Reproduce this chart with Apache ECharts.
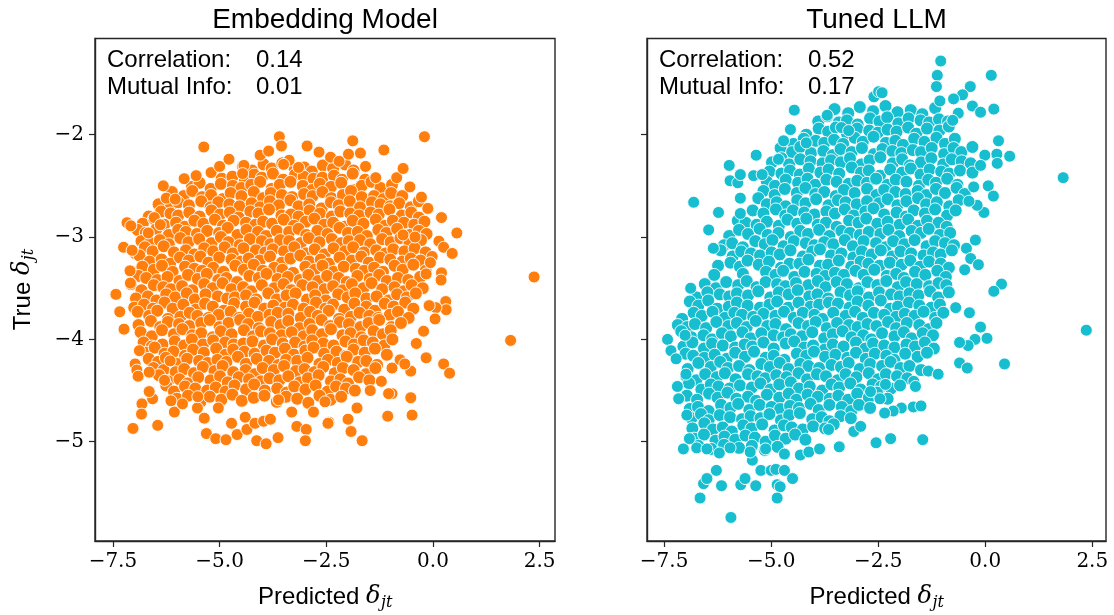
<!DOCTYPE html>
<html>
<head>
<meta charset="utf-8">
<title>Predicted vs true δjt</title>
<script src="https://cdn.jsdelivr.net/npm/echarts@6/dist/echarts.min.js"></script>
<style>
  html, body { margin: 0; padding: 0; background: #ffffff; }
  #chart { width: 1114px; height: 615px; }
</style>
</head>
<body>
<div id="chart"></div>
<script>
// ---- tick values and panel labels ----
const xTickValues = [-7.5, -5.0, -2.5, 0.0, 2.5];
const yTickValues = [-5, -4, -3, -2];
const panelTitles = ['Embedding Model', 'Tuned LLM'];
const statNames = ['Correlation:', 'Mutual Info:'];
const embeddingStats = ['0.14', '0.01'];
const tunedStats = ['0.52', '0.17'];

// ---- Embedding Model: [predicted, true] ----
const embeddingCore = [
[-4.45,-2.31],[-4.24,-2.35],[-3.97,-2.29],[-3.78,-2.33],[-3.53,-2.28],[-3.24,-2.34],[-3.02,-2.32],[-2.84,-2.36],[-2.58,-2.30],[-2.34,-2.33],[-2.06,-2.29],[-1.86,-2.35],
[-4.95,-2.43],[-4.70,-2.41],[-4.41,-2.45],[-4.19,-2.39],[-4.01,-2.42],[-3.75,-2.38],[-3.51,-2.44],[-3.23,-2.39],[-3.03,-2.41],[-2.80,-2.43],[-2.59,-2.42],[-2.32,-2.40],[-2.13,-2.44],[-1.88,-2.38],[-1.59,-2.44],
[-5.65,-2.51],[-5.47,-2.47],[-5.21,-2.53],[-4.97,-2.48],[-4.69,-2.50],[-4.49,-2.52],[-4.26,-2.49],[-4.05,-2.46],[-3.78,-2.53],[-3.59,-2.49],[-3.34,-2.46],[-3.05,-2.50],[-2.83,-2.54],[-2.65,-2.48],[-2.39,-2.51],[-2.15,-2.47],[-1.87,-2.54],[-1.67,-2.50],[-1.44,-2.46],[-1.23,-2.52],[-0.96,-2.49],
[-6.12,-2.56],[-5.84,-2.60],[-5.64,-2.55],[-5.41,-2.61],[-5.20,-2.59],[-4.93,-2.63],[-4.74,-2.57],[-4.49,-2.60],[-4.20,-2.56],[-3.98,-2.62],[-3.80,-2.57],[-3.54,-2.59],[-3.30,-2.61],[-3.02,-2.58],[-2.82,-2.60],[-2.59,-2.56],[-2.38,-2.62],[-2.11,-2.59],[-1.92,-2.55],[-1.67,-2.61],[-1.38,-2.60],[-1.16,-2.63],[-0.98,-2.57],[-0.72,-2.60],
[-6.43,-2.68],[-6.16,-2.72],[-5.97,-2.66],[-5.72,-2.69],[-5.43,-2.65],[-5.21,-2.71],[-5.03,-2.66],[-4.77,-2.68],[-4.53,-2.70],[-4.25,-2.67],[-4.05,-2.71],[-3.82,-2.65],[-3.61,-2.69],[-3.34,-2.64],[-3.15,-2.70],[-2.90,-2.68],[-2.61,-2.72],[-2.39,-2.66],[-2.21,-2.69],[-1.95,-2.65],[-1.71,-2.71],[-1.43,-2.66],[-1.23,-2.68],[-1.00,-2.70],[-0.79,-2.67],[-0.52,-2.71],[-0.33,-2.65],
[-6.66,-2.80],[-6.37,-2.75],[-6.15,-2.77],[-5.97,-2.79],[-5.71,-2.76],[-5.47,-2.80],[-5.19,-2.74],[-4.99,-2.78],[-4.76,-2.76],[-4.55,-2.81],[-4.28,-2.75],[-4.09,-2.77],[-3.84,-2.73],[-3.55,-2.79],[-3.33,-2.78],[-3.15,-2.80],[-2.89,-2.74],[-2.65,-2.77],[-2.37,-2.80],[-2.17,-2.75],[-1.94,-2.77],[-1.73,-2.79],[-1.46,-2.76],[-1.27,-2.78],[-1.02,-2.73],[-0.73,-2.79],[-0.51,-2.76],[-0.33,-2.81],
[-6.80,-2.87],[-6.54,-2.82],[-6.30,-2.88],[-6.02,-2.86],[-5.82,-2.90],[-5.59,-2.84],[-5.38,-2.87],[-5.11,-2.83],[-4.92,-2.89],[-4.67,-2.84],[-4.38,-2.86],[-4.16,-2.88],[-3.98,-2.85],[-3.77,-2.87],[-3.50,-2.83],[-3.26,-2.89],[-2.98,-2.85],[-2.78,-2.82],[-2.55,-2.88],[-2.34,-2.86],[-2.07,-2.90],[-1.88,-2.84],[-1.63,-2.87],[-1.34,-2.83],[-1.12,-2.89],[-0.94,-2.84],[-0.68,-2.86],[-0.44,-2.88],[-0.20,-2.85],
[-6.92,-2.93],[-6.73,-2.96],[-6.48,-2.92],[-6.19,-2.98],[-5.97,-2.93],[-5.79,-2.95],[-5.53,-2.97],[-5.29,-2.94],[-5.01,-2.96],[-4.81,-2.91],[-4.58,-2.98],[-4.37,-2.93],[-4.10,-2.95],[-3.91,-2.99],[-3.66,-2.94],[-3.37,-2.95],[-3.15,-2.92],[-2.97,-2.98],[-2.71,-2.94],[-2.47,-2.97],[-2.19,-2.91],[-1.99,-2.96],[-1.76,-2.95],[-1.55,-2.99],[-1.28,-2.93],[-1.09,-2.96],[-0.84,-2.92],[-0.55,-2.98],[-0.33,-2.94],[-0.15,-2.97],
[-6.83,-3.04],[-6.63,-3.06],[-6.40,-3.03],[-6.19,-3.07],[-5.92,-3.01],[-5.73,-3.05],[-5.48,-3.02],[-5.19,-3.06],[-4.97,-3.00],[-4.79,-3.05],[-4.53,-3.08],[-4.29,-3.02],[-4.01,-3.04],[-3.81,-3.07],[-3.58,-3.03],[-3.37,-3.04],[-3.10,-3.06],[-2.91,-3.01],[-2.66,-3.05],[-2.37,-3.02],[-2.15,-3.06],[-1.97,-3.04],[-1.71,-3.03],[-1.47,-3.07],[-1.19,-3.02],[-0.99,-3.05],[-0.76,-3.01],[-0.55,-3.06],[-0.28,-3.03],
[-6.97,-3.16],[-6.75,-3.10],[-6.57,-3.14],[-6.31,-3.09],[-6.07,-3.15],[-5.79,-3.13],[-5.59,-3.17],[-5.36,-3.11],[-5.15,-3.14],[-4.88,-3.10],[-4.69,-3.16],[-4.44,-3.11],[-4.15,-3.13],[-3.93,-3.15],[-3.75,-3.12],[-3.49,-3.14],[-3.25,-3.10],[-2.97,-3.16],[-2.77,-3.12],[-2.54,-3.17],[-2.33,-3.11],[-2.06,-3.14],[-1.87,-3.10],[-1.62,-3.15],[-1.33,-3.13],[-1.11,-3.16],[-0.93,-3.12],[-0.67,-3.14],[-0.43,-3.11],[-0.17,-3.15],
[-6.88,-3.18],[-6.64,-3.24],[-6.36,-3.22],[-6.16,-3.26],[-5.93,-3.20],[-5.72,-3.23],[-5.45,-3.19],[-5.26,-3.25],[-5.01,-3.20],[-4.72,-3.22],[-4.50,-3.24],[-4.32,-3.21],[-4.06,-3.23],[-3.82,-3.19],[-3.54,-3.25],[-3.34,-3.21],[-3.11,-3.18],[-2.90,-3.24],[-2.63,-3.22],[-2.44,-3.26],[-2.19,-3.20],[-1.90,-3.23],[-1.68,-3.19],[-1.50,-3.25],[-1.24,-3.20],[-1.00,-3.22],[-0.72,-3.24],[-0.52,-3.21],[-0.29,-3.23],
[-7.02,-3.35],[-6.81,-3.29],[-6.54,-3.32],[-6.35,-3.28],[-6.10,-3.34],[-5.81,-3.29],[-5.59,-3.31],[-5.41,-3.33],[-5.15,-3.30],[-4.91,-3.34],[-4.63,-3.28],[-4.43,-3.32],[-4.20,-3.27],[-3.99,-3.33],[-3.72,-3.30],[-3.53,-3.32],[-3.28,-3.35],[-2.99,-3.29],[-2.77,-3.32],[-2.59,-3.28],[-2.33,-3.34],[-2.09,-3.29],[-1.81,-3.31],[-1.61,-3.33],[-1.38,-3.30],[-1.17,-3.34],[-0.90,-3.28],[-0.71,-3.32],[-0.46,-3.27],[-0.17,-3.33],
[-6.90,-3.38],[-6.72,-3.40],[-6.46,-3.42],[-6.22,-3.39],[-5.94,-3.43],[-5.74,-3.37],[-5.51,-3.41],[-5.30,-3.36],[-5.03,-3.42],[-4.84,-3.40],[-4.59,-3.44],[-4.30,-3.38],[-4.08,-3.40],[-3.90,-3.36],[-3.64,-3.41],[-3.40,-3.39],[-3.12,-3.42],[-2.92,-3.37],[-2.69,-3.43],[-2.48,-3.38],[-2.21,-3.40],[-2.02,-3.44],[-1.77,-3.38],[-1.48,-3.41],[-1.26,-3.37],[-1.08,-3.43],[-0.82,-3.40],[-0.58,-3.42],[-0.30,-3.39],
[-7.08,-3.46],[-6.83,-3.52],[-6.54,-3.47],[-6.32,-3.49],[-6.14,-3.51],[-5.88,-3.48],[-5.64,-3.52],[-5.36,-3.46],[-5.16,-3.50],[-4.93,-3.45],[-4.72,-3.51],[-4.45,-3.49],[-4.26,-3.53],[-4.01,-3.47],[-3.72,-3.50],[-3.50,-3.46],[-3.32,-3.52],[-3.06,-3.47],[-2.82,-3.49],[-2.54,-3.51],[-2.34,-3.48],[-2.11,-3.52],[-1.90,-3.46],[-1.63,-3.50],[-1.44,-3.45],[-1.19,-3.51],[-0.90,-3.49],[-0.68,-3.53],[-0.50,-3.47],[-0.24,-3.50],
[-6.96,-3.60],[-6.68,-3.58],[-6.48,-3.62],[-6.25,-3.56],[-6.04,-3.59],[-5.77,-3.55],[-5.58,-3.61],[-5.33,-3.56],[-5.04,-3.58],[-4.82,-3.60],[-4.64,-3.59],[-4.38,-3.57],[-4.14,-3.61],[-3.86,-3.55],[-3.66,-3.61],[-3.43,-3.57],[-3.22,-3.55],[-2.95,-3.61],[-2.76,-3.57],[-2.51,-3.62],[-2.22,-3.56],[-2.00,-3.59],[-1.82,-3.55],[-1.56,-3.60],[-1.32,-3.58],[-1.04,-3.62],[-0.84,-3.56],[-0.61,-3.59],[-0.40,-3.55],
[-7.00,-3.69],[-6.77,-3.66],[-6.56,-3.70],[-6.29,-3.64],[-6.10,-3.70],[-5.85,-3.66],[-5.56,-3.71],[-5.34,-3.65],[-5.16,-3.68],[-4.90,-3.72],[-4.66,-3.65],[-4.38,-3.68],[-4.18,-3.64],[-3.95,-3.70],[-3.74,-3.67],[-3.47,-3.69],[-3.28,-3.66],[-3.03,-3.70],[-2.74,-3.64],[-2.52,-3.70],[-2.34,-3.66],[-2.08,-3.71],[-1.84,-3.65],[-1.56,-3.68],[-1.36,-3.72],[-1.13,-3.65],[-0.92,-3.68],[-0.65,-3.64],[-0.46,-3.70],
[-6.92,-3.73],[-6.65,-3.77],[-6.46,-3.72],[-6.21,-3.80],[-5.92,-3.78],[-5.70,-3.74],[-5.52,-3.77],[-5.26,-3.79],[-5.02,-3.76],[-4.74,-3.73],[-4.54,-3.79],[-4.31,-3.75],[-4.10,-3.78],[-3.83,-3.76],[-3.64,-3.74],[-3.39,-3.75],[-3.10,-3.79],[-2.88,-3.73],[-2.70,-3.77],[-2.44,-3.72],[-2.20,-3.80],[-1.92,-3.78],[-1.72,-3.74],[-1.49,-3.77],[-1.28,-3.79],[-1.01,-3.76],[-0.82,-3.73],[-0.57,-3.79],
[-6.90,-3.86],[-6.61,-3.82],[-6.39,-3.88],[-6.21,-3.83],[-5.95,-3.85],[-5.71,-3.87],[-5.43,-3.84],[-5.23,-3.81],[-5.00,-3.88],[-4.79,-3.84],[-4.52,-3.81],[-4.33,-3.85],[-4.08,-3.89],[-3.79,-3.83],[-3.57,-3.86],[-3.39,-3.82],[-3.13,-3.89],[-2.89,-3.85],[-2.61,-3.81],[-2.41,-3.87],[-2.18,-3.83],[-1.97,-3.85],[-1.70,-3.88],[-1.51,-3.84],[-1.26,-3.81],[-0.97,-3.88],[-0.75,-3.84],
[-6.85,-3.93],[-6.59,-3.97],[-6.35,-3.91],[-6.07,-3.95],[-5.87,-3.90],[-5.64,-3.96],[-5.43,-3.94],[-5.16,-3.98],[-4.97,-3.92],[-4.72,-3.95],[-4.43,-3.91],[-4.21,-3.97],[-4.03,-3.92],[-3.82,-3.94],[-3.55,-3.96],[-3.31,-3.93],[-3.03,-3.97],[-2.83,-3.91],[-2.60,-3.95],[-2.39,-3.90],[-2.12,-3.96],[-1.93,-3.94],[-1.68,-3.98],[-1.39,-3.92],[-1.17,-3.95],[-0.99,-3.91],
[-6.78,-4.03],[-6.59,-4.07],[-6.34,-4.05],[-6.05,-4.02],[-5.83,-4.06],[-5.65,-4.00],[-5.39,-4.05],[-5.15,-4.01],[-4.87,-4.03],[-4.67,-4.05],[-4.44,-4.04],[-4.23,-4.02],[-3.96,-4.06],[-3.77,-4.00],[-3.52,-4.04],[-3.23,-4.03],[-3.01,-4.07],[-2.83,-4.01],[-2.57,-4.04],[-2.33,-4.06],[-2.05,-4.02],[-1.85,-4.05],[-1.62,-4.01],[-1.41,-4.03],[-1.14,-4.06],[-0.95,-4.00],
[-6.72,-4.13],[-6.52,-4.08],[-6.29,-4.14],[-6.08,-4.12],[-5.81,-4.16],[-5.62,-4.10],[-5.37,-4.13],[-5.08,-4.09],[-4.86,-4.15],[-4.68,-4.10],[-4.42,-4.12],[-4.18,-4.14],[-3.90,-4.11],[-3.70,-4.13],[-3.47,-4.09],[-3.26,-4.15],[-2.99,-4.11],[-2.80,-4.08],[-2.55,-4.14],[-2.26,-4.12],[-2.04,-4.16],[-1.86,-4.10],[-1.60,-4.13],[-1.36,-4.09],[-1.08,-4.15],
[-6.66,-4.19],[-6.44,-4.22],[-6.26,-4.18],[-6.00,-4.24],[-5.76,-4.19],[-5.48,-4.21],[-5.28,-4.23],[-5.05,-4.20],[-4.84,-4.22],[-4.57,-4.17],[-4.38,-4.24],[-4.13,-4.19],[-3.84,-4.21],[-3.62,-4.25],[-3.44,-4.20],[-3.18,-4.21],[-2.94,-4.18],[-2.66,-4.24],[-2.46,-4.20],[-2.23,-4.23],[-2.02,-4.17],[-1.75,-4.22],[-1.56,-4.21],[-1.31,-4.25],
[-6.55,-4.28],[-6.31,-4.30],[-6.03,-4.32],[-5.83,-4.29],[-5.60,-4.33],[-5.39,-4.27],[-5.12,-4.31],[-4.93,-4.26],[-4.68,-4.32],[-4.39,-4.30],[-4.17,-4.34],[-3.99,-4.28],[-3.73,-4.30],[-3.49,-4.26],[-3.21,-4.31],[-3.01,-4.29],[-2.78,-4.32],[-2.57,-4.27],[-2.30,-4.33],[-2.11,-4.28],[-1.86,-4.30],[-1.57,-4.34],[-1.35,-4.28],
[-6.42,-4.35],[-6.21,-4.41],[-5.94,-4.39],[-5.75,-4.43],[-5.50,-4.37],[-5.21,-4.40],[-4.99,-4.36],[-4.81,-4.42],[-4.55,-4.37],[-4.31,-4.39],[-4.03,-4.41],[-3.83,-4.38],[-3.60,-4.40],[-3.39,-4.36],[-3.12,-4.42],[-2.93,-4.38],[-2.68,-4.35],[-2.39,-4.41],[-2.17,-4.39],[-1.99,-4.43],[-1.73,-4.37],[-1.49,-4.40],
[-6.25,-4.45],[-6.07,-4.51],[-5.81,-4.46],[-5.57,-4.48],[-5.29,-4.50],[-5.09,-4.47],[-4.86,-4.51],[-4.65,-4.45],[-4.38,-4.49],[-4.19,-4.44],[-3.94,-4.50],[-3.65,-4.48],[-3.43,-4.52],[-3.25,-4.46],[-2.99,-4.49],[-2.75,-4.45],[-2.47,-4.51],[-2.27,-4.46],[-2.04,-4.48],[-1.83,-4.50],
[-6.00,-4.58],[-5.74,-4.55],[-5.45,-4.61],[-5.23,-4.56],[-4.96,-4.59],[-4.70,-4.54],[-4.48,-4.60],[-4.20,-4.57],[-3.95,-4.55],[-3.66,-4.61],[-3.44,-4.56],[-3.18,-4.58],[-2.92,-4.62],[-2.66,-4.55],[-2.40,-4.59],[-2.15,-4.56]
];

const embeddingOuter = [
[-3.60,-2.02],[-3.55,-2.11],[-5.37,-2.12],[-2.95,-2.11],[-2.67,-2.17],[-4.78,-2.24],[-3.37,-2.25],[-3.50,-2.29],[-3.15,-2.32],[-4.43,-2.30],
[-5.83,-2.43],[-5.20,-2.37],[-4.46,-2.38],[-6.25,-2.62],[-6.04,-2.63],[-6.53,-2.81],[-7.17,-2.86],[-7.08,-2.89],[-7.25,-3.10],[-7.05,-3.13],
[-7.10,-3.33],[-6.67,-2.96],[-6.39,-2.88],[-7.09,-3.45],[-4.05,-2.20],[-2.40,-2.22],[-3.85,-2.16],[-2.20,-2.26],[-5.00,-2.31],[-1.58,-2.31],
[-5.55,-2.40],[-6.32,-2.50],[-0.85,-2.42],
[-0.20,-2.02],[-1.88,-2.06],[-1.15,-2.15],[-1.70,-2.18],[-1.98,-2.19],[-0.70,-2.33],[-1.34,-2.42],[-0.54,-2.51],[-0.27,-2.61],[-0.12,-2.72],
[0.20,-2.81],[0.56,-2.96],[0.14,-3.04],[0.25,-3.10],[0.45,-3.16],[-0.02,-3.19],[-0.06,-3.25],[-0.70,-2.98],[-0.42,-3.00],[0.20,-3.35],
[0.19,-3.42],[2.37,-3.39],[-0.16,-3.36],
[0.30,-3.63],[0.31,-3.71],[0.07,-3.69],[-0.09,-3.67],[0.05,-3.80],[-0.22,-3.92],[1.82,-4.01],[-0.16,-4.18],[0.25,-4.24],[0.39,-4.33],
[-0.52,-4.31],[-0.39,-4.04],[-0.77,-4.20],[-0.66,-4.24],[-0.96,-4.28],[-0.52,-4.57],[-0.49,-4.74],[-1.06,-4.75],[-0.96,-4.53],[-1.04,-4.53],
[-1.99,-4.78],[-1.92,-4.90],[-1.66,-4.99],[-2.44,-4.81],[-1.78,-4.67],[-1.47,-4.50],[-1.21,-4.41],[-2.53,-4.61],
[-7.43,-3.56],[-7.34,-3.73],[-7.24,-3.90],[-6.98,-4.24],[-6.94,-4.30],[-6.91,-4.36],[-6.88,-4.11],[-6.82,-4.63],[-6.83,-4.73],[-7.03,-4.87],
[-6.45,-4.84],[-6.57,-4.58],[-6.65,-4.51],[-6.06,-4.71],[-6.14,-4.60],[-5.87,-4.63],[-5.52,-4.67],[-5.36,-4.77],[-5.31,-4.92],[-5.09,-4.97],
[-4.85,-4.98],[-4.59,-4.93],[-4.72,-4.82],[-4.40,-4.76],[-4.36,-4.88],[-4.13,-4.99],[-3.91,-5.02],[-4.17,-4.82],[-3.97,-4.80],[-3.81,-4.78],
[-3.63,-4.96],[-3.19,-4.85],[-2.97,-4.88],[-2.99,-4.99],[-2.46,-4.82],[-3.31,-4.71],[-2.80,-4.71],[-3.62,-4.59],[-5.03,-4.67],[-5.51,-4.56],
[-6.16,-4.21],[-6.29,-4.40],[-6.65,-4.32]
];

// ---- Tuned LLM: [predicted, true] ----
const tunedCore = [
[-3.52,-1.75],[-3.20,-1.79],[-2.93,-1.73],[-2.62,-1.77],[-2.33,-1.72],[-2.05,-1.78],[-1.74,-1.76],[-1.47,-1.80],[-1.17,-1.74],
[-3.90,-1.87],[-3.69,-1.82],[-3.42,-1.88],[-3.23,-1.86],[-2.98,-1.90],[-2.69,-1.84],[-2.47,-1.87],[-2.29,-1.83],[-2.03,-1.89],[-1.79,-1.84],[-1.51,-1.86],[-1.31,-1.88],[-1.08,-1.85],[-0.87,-1.87],
[-4.18,-2.00],[-3.89,-1.94],[-3.67,-1.97],[-3.49,-1.93],[-3.23,-1.99],[-2.99,-1.94],[-2.71,-1.96],[-2.51,-1.98],[-2.28,-1.95],[-2.07,-1.97],[-1.80,-1.93],[-1.61,-1.99],[-1.36,-1.94],[-1.07,-1.96],[-0.85,-1.92],
[-4.48,-2.09],[-4.24,-2.04],[-3.96,-2.06],[-3.76,-2.08],[-3.53,-2.05],[-3.32,-2.09],[-3.05,-2.03],[-2.86,-2.07],[-2.61,-2.02],[-2.32,-2.08],[-2.10,-2.06],[-1.92,-2.10],[-1.66,-2.04],[-1.42,-2.07],[-1.14,-2.03],[-0.94,-2.09],[-0.71,-2.04],
[-4.78,-2.13],[-4.51,-2.17],[-4.32,-2.12],[-4.07,-2.18],[-3.78,-2.16],[-3.56,-2.20],[-3.38,-2.14],[-3.12,-2.17],[-2.88,-2.13],[-2.60,-2.19],[-2.40,-2.14],[-2.17,-2.16],[-1.96,-2.18],[-1.69,-2.15],[-1.50,-2.17],[-1.25,-2.13],[-0.96,-2.19],[-0.74,-2.13],[-0.56,-2.17],[-0.30,-2.12],
[-4.98,-2.27],[-4.76,-2.23],[-4.58,-2.29],[-4.32,-2.24],[-4.08,-2.26],[-3.80,-2.28],[-3.60,-2.25],[-3.37,-2.27],[-3.16,-2.23],[-2.89,-2.29],[-2.70,-2.25],[-2.45,-2.22],[-2.16,-2.28],[-1.94,-2.24],[-1.76,-2.30],[-1.50,-2.27],[-1.26,-2.23],[-0.98,-2.29],[-0.78,-2.24],[-0.55,-2.26],[-0.34,-2.28],
[-5.04,-2.36],[-4.76,-2.38],[-4.56,-2.35],[-4.33,-2.39],[-4.12,-2.33],[-3.85,-2.37],[-3.66,-2.34],[-3.41,-2.38],[-3.12,-2.32],[-2.90,-2.37],[-2.72,-2.35],[-2.46,-2.40],[-2.22,-2.34],[-1.94,-2.37],[-1.74,-2.33],[-1.51,-2.39],[-1.30,-2.34],[-1.03,-2.36],[-0.84,-2.38],[-0.59,-2.35],[-0.30,-2.37],
[-5.10,-2.46],[-4.91,-2.50],[-4.66,-2.44],[-4.37,-2.47],[-4.15,-2.43],[-3.97,-2.49],[-3.71,-2.44],[-3.47,-2.46],[-3.19,-2.48],[-2.99,-2.45],[-2.76,-2.47],[-2.55,-2.43],[-2.28,-2.49],[-2.09,-2.44],[-1.84,-2.46],[-1.55,-2.50],[-1.33,-2.44],[-1.15,-2.47],[-0.89,-2.43],[-0.65,-2.49],
[-5.18,-2.55],[-4.92,-2.59],[-4.68,-2.53],[-4.40,-2.57],[-4.20,-2.52],[-3.97,-2.58],[-3.76,-2.56],[-3.49,-2.60],[-3.30,-2.54],[-3.05,-2.57],[-2.76,-2.53],[-2.54,-2.59],[-2.36,-2.54],[-2.10,-2.56],[-1.86,-2.58],[-1.58,-2.55],[-1.38,-2.59],[-1.15,-2.53],[-0.94,-2.57],[-0.67,-2.52],[-0.48,-2.58],
[-5.30,-2.62],[-5.10,-2.68],[-4.87,-2.66],[-4.66,-2.70],[-4.39,-2.64],[-4.20,-2.67],[-3.95,-2.63],[-3.66,-2.69],[-3.44,-2.64],[-3.26,-2.66],[-3.00,-2.68],[-2.76,-2.65],[-2.48,-2.67],[-2.28,-2.63],[-2.05,-2.69],[-1.84,-2.65],[-1.57,-2.62],[-1.38,-2.68],[-1.13,-2.66],[-0.84,-2.70],[-0.62,-2.64],
[-5.43,-2.74],[-5.18,-2.77],[-4.89,-2.73],[-4.67,-2.79],[-4.49,-2.74],[-4.23,-2.76],[-3.99,-2.78],[-3.71,-2.75],[-3.51,-2.77],[-3.28,-2.73],[-3.07,-2.79],[-2.80,-2.75],[-2.61,-2.72],[-2.36,-2.78],[-2.07,-2.76],[-1.85,-2.80],[-1.67,-2.74],[-1.41,-2.77],[-1.17,-2.73],[-0.89,-2.79],[-0.69,-2.74],
[-5.78,-2.84],[-5.60,-2.86],[-5.34,-2.88],[-5.10,-2.85],[-4.82,-2.89],[-4.62,-2.83],[-4.39,-2.87],[-4.18,-2.82],[-3.91,-2.88],[-3.72,-2.86],[-3.47,-2.90],[-3.18,-2.84],[-2.96,-2.86],[-2.78,-2.82],[-2.52,-2.87],[-2.28,-2.85],[-2.00,-2.88],[-1.80,-2.83],[-1.57,-2.89],[-1.36,-2.84],[-1.09,-2.86],[-0.90,-2.90],
[-5.98,-2.99],[-5.75,-2.93],[-5.54,-2.97],[-5.27,-2.92],[-5.08,-2.98],[-4.83,-2.96],[-4.54,-3.00],[-4.32,-2.94],[-4.14,-2.97],[-3.88,-2.93],[-3.64,-2.99],[-3.36,-2.94],[-3.16,-2.96],[-2.93,-2.98],[-2.72,-2.95],[-2.45,-2.97],[-2.26,-2.93],[-2.01,-2.99],[-1.72,-2.94],[-1.50,-2.96],[-1.32,-2.92],[-1.06,-2.98],[-0.82,-2.96],
[-6.10,-3.08],[-5.91,-3.06],[-5.66,-3.10],[-5.37,-3.04],[-5.15,-3.07],[-4.97,-3.03],[-4.71,-3.09],[-4.47,-3.04],[-4.19,-3.06],[-3.99,-3.08],[-3.76,-3.05],[-3.55,-3.07],[-3.28,-3.03],[-3.09,-3.09],[-2.84,-3.04],[-2.55,-3.06],[-2.33,-3.10],[-2.15,-3.04],[-1.89,-3.07],[-1.65,-3.03],[-1.37,-3.09],[-1.17,-3.04],[-0.94,-3.06],[-0.73,-3.08],
[-6.18,-3.13],[-5.90,-3.19],[-5.70,-3.14],[-5.47,-3.16],[-5.26,-3.18],[-4.99,-3.15],[-4.80,-3.17],[-4.55,-3.13],[-4.26,-3.19],[-4.04,-3.14],[-3.86,-3.12],[-3.60,-3.18],[-3.36,-3.16],[-3.08,-3.20],[-2.88,-3.14],[-2.65,-3.17],[-2.44,-3.13],[-2.17,-3.19],[-1.98,-3.14],[-1.73,-3.16],[-1.44,-3.18],[-1.22,-3.15],[-1.04,-3.17],[-0.78,-3.13],
[-6.24,-3.28],[-5.95,-3.25],[-5.73,-3.29],[-5.55,-3.23],[-5.29,-3.27],[-5.05,-3.24],[-4.77,-3.30],[-4.57,-3.26],[-4.34,-3.26],[-4.13,-3.22],[-3.86,-3.28],[-3.67,-3.27],[-3.42,-3.23],[-3.13,-3.29],[-2.91,-3.24],[-2.73,-3.26],[-2.47,-3.28],[-2.23,-3.25],[-1.95,-3.27],[-1.75,-3.23],[-1.52,-3.29],[-1.31,-3.24],[-1.04,-3.26],[-0.85,-3.30],
[-6.33,-3.37],[-5.66,-3.36],[-5.12,-3.34],[-4.90,-3.37],[-4.72,-3.33],[-4.46,-3.39],[-4.22,-3.34],[-3.94,-3.36],[-3.74,-3.38],[-3.51,-3.35],[-3.30,-3.37],[-3.03,-3.33],[-2.84,-3.37],[-2.59,-3.32],[-2.30,-3.38],[-2.08,-3.36],[-1.90,-3.40],[-1.64,-3.34],[-1.40,-3.37],[-1.12,-3.33],[-0.92,-3.39],
[-6.55,-3.46],[-6.29,-3.50],[-6.05,-3.44],[-5.77,-3.47],[-5.57,-3.43],[-5.34,-3.49],[-5.13,-3.44],[-4.86,-3.46],[-4.67,-3.48],[-4.42,-3.45],[-4.13,-3.47],[-3.91,-3.43],[-3.73,-3.49],[-3.47,-3.44],[-3.23,-3.46],[-2.95,-3.50],[-2.75,-3.44],[-2.52,-3.47],[-2.31,-3.43],[-2.04,-3.49],[-1.85,-3.44],[-1.60,-3.46],[-1.31,-3.48],[-1.09,-3.45],[-0.91,-3.47],
[-6.74,-3.59],[-6.49,-3.54],[-6.20,-3.56],[-5.98,-3.58],[-5.80,-3.55],[-5.54,-3.57],[-5.30,-3.53],[-5.02,-3.59],[-4.82,-3.54],[-4.59,-3.56],[-4.38,-3.52],[-4.11,-3.58],[-3.92,-3.56],[-3.67,-3.60],[-3.38,-3.54],[-3.16,-3.57],[-2.98,-3.53],[-2.72,-3.59],[-2.48,-3.54],[-2.20,-3.56],[-2.00,-3.58],[-1.77,-3.55],[-1.56,-3.57],[-1.29,-3.53],[-1.10,-3.59],[-0.85,-3.54],
[-6.90,-3.63],[-6.70,-3.67],[-6.47,-3.62],[-6.26,-3.70],[-5.99,-3.68],[-5.80,-3.64],[-5.55,-3.67],[-5.26,-3.69],[-5.04,-3.66],[-4.86,-3.63],[-4.60,-3.69],[-4.36,-3.64],[-4.08,-3.68],[-3.88,-3.66],[-3.65,-3.64],[-3.44,-3.65],[-3.17,-3.69],[-2.98,-3.63],[-2.73,-3.67],[-2.44,-3.62],[-2.22,-3.70],[-2.04,-3.68],[-1.78,-3.64],[-1.54,-3.67],[-1.26,-3.69],[-1.06,-3.66],
[-7.08,-3.80],[-6.81,-3.74],[-6.62,-3.77],[-6.37,-3.73],[-6.08,-3.79],[-5.86,-3.74],[-5.68,-3.76],[-5.42,-3.78],[-5.18,-3.75],[-4.90,-3.77],[-4.70,-3.73],[-4.47,-3.79],[-4.26,-3.74],[-3.99,-3.76],[-3.80,-3.80],[-3.55,-3.74],[-3.26,-3.77],[-3.04,-3.73],[-2.86,-3.79],[-2.60,-3.74],[-2.36,-3.76],[-2.08,-3.78],[-1.88,-3.75],[-1.65,-3.77],[-1.44,-3.73],[-1.17,-3.79],[-0.98,-3.74],
[-7.18,-3.86],[-6.96,-3.88],[-6.78,-3.85],[-6.52,-3.89],[-6.28,-3.83],[-6.00,-3.87],[-5.80,-3.84],[-5.57,-3.88],[-5.36,-3.82],[-5.09,-3.87],[-4.90,-3.85],[-4.65,-3.90],[-4.36,-3.84],[-4.14,-3.87],[-3.96,-3.83],[-3.70,-3.89],[-3.46,-3.84],[-3.18,-3.86],[-2.98,-3.88],[-2.75,-3.85],[-2.54,-3.87],[-2.27,-3.83],[-2.08,-3.89],[-1.83,-3.84],[-1.54,-3.86],[-1.32,-3.90],[-1.14,-3.84],
[-7.10,-3.92],[-6.86,-3.98],[-6.58,-3.96],[-6.38,-4.00],[-6.15,-3.94],[-5.94,-3.97],[-5.67,-3.93],[-5.48,-3.99],[-5.23,-3.94],[-4.94,-3.96],[-4.72,-3.98],[-4.54,-3.95],[-4.28,-3.97],[-4.04,-3.93],[-3.76,-3.99],[-3.56,-3.95],[-3.33,-3.92],[-3.12,-3.98],[-2.85,-3.96],[-2.66,-4.00],[-2.41,-3.94],[-2.12,-3.97],[-1.90,-3.93],[-1.72,-3.99],[-1.46,-3.94],[-1.22,-3.96],
[-7.05,-4.07],[-6.84,-4.03],[-6.57,-4.09],[-6.38,-4.04],[-6.13,-4.06],[-5.84,-4.08],[-5.62,-4.05],[-5.44,-4.07],[-5.18,-4.03],[-4.94,-4.09],[-4.66,-4.04],[-4.46,-4.02],[-4.23,-4.08],[-4.02,-4.06],[-3.75,-4.10],[-3.56,-4.05],[-3.31,-4.07],[-3.02,-4.03],[-2.80,-4.09],[-2.62,-4.04],[-2.36,-4.06],[-2.12,-4.08],[-1.84,-4.05],[-1.64,-4.07],[-1.41,-4.03],[-1.20,-4.09],
[-7.00,-4.14],[-6.82,-4.16],[-6.56,-4.18],[-6.32,-4.15],[-6.04,-4.19],[-5.84,-4.13],[-5.61,-4.17],[-5.40,-4.12],[-5.13,-4.18],[-4.94,-4.16],[-4.69,-4.20],[-4.40,-4.14],[-4.18,-4.16],[-4.00,-4.12],[-3.74,-4.17],[-3.50,-4.15],[-3.22,-4.18],[-3.02,-4.13],[-2.79,-4.19],[-2.58,-4.14],[-2.31,-4.16],[-2.12,-4.20],[-1.87,-4.14],[-1.58,-4.17],[-1.36,-4.13],
[-6.95,-4.29],[-6.70,-4.23],[-6.41,-4.27],[-6.19,-4.22],[-6.01,-4.28],[-5.75,-4.26],[-5.51,-4.30],[-5.23,-4.24],[-5.03,-4.27],[-4.80,-4.23],[-4.59,-4.29],[-4.32,-4.24],[-4.13,-4.26],[-3.88,-4.28],[-3.59,-4.25],[-3.37,-4.27],[-3.19,-4.23],[-2.93,-4.29],[-2.69,-4.24],[-2.41,-4.26],[-2.21,-4.22],[-1.98,-4.28],[-1.77,-4.26],[-1.50,-4.30],
[-6.98,-4.36],[-6.75,-4.40],[-6.54,-4.34],[-6.27,-4.37],[-6.08,-4.33],[-5.83,-4.39],[-5.54,-4.34],[-5.32,-4.36],[-5.14,-4.38],[-4.88,-4.35],[-4.64,-4.37],[-4.36,-4.33],[-4.16,-4.39],[-3.93,-4.34],[-3.72,-4.36],[-3.45,-4.40],[-3.26,-4.34],[-3.01,-4.37],[-2.72,-4.33],[-2.50,-4.39],[-2.32,-4.34],[-2.06,-4.36],[-1.82,-4.38],
[-6.92,-4.43],[-6.63,-4.49],[-6.41,-4.44],[-6.23,-4.46],[-5.97,-4.48],[-5.73,-4.45],[-5.45,-4.47],[-5.25,-4.43],[-5.02,-4.49],[-4.81,-4.44],[-4.54,-4.42],[-4.35,-4.48],[-4.10,-4.46],[-3.81,-4.50],[-3.59,-4.44],[-3.41,-4.47],[-3.15,-4.43],[-2.91,-4.49],[-2.63,-4.44],[-2.43,-4.46],[-2.20,-4.48],[-1.99,-4.45],
[-6.97,-4.55],[-6.73,-4.59],[-6.45,-4.53],[-6.25,-4.57],[-6.02,-4.52],[-5.81,-4.58],[-5.54,-4.56],[-5.35,-4.60],[-5.10,-4.54],[-4.81,-4.57],[-4.59,-4.53],[-4.41,-4.59],[-4.15,-4.54],[-3.91,-4.56],[-3.63,-4.58],[-3.43,-4.55],[-3.20,-4.59],[-2.99,-4.53],[-2.72,-4.57],[-2.53,-4.52],[-2.28,-4.58],
[-6.90,-4.68],[-6.71,-4.66],[-6.46,-4.70],[-6.17,-4.64],[-5.95,-4.67],[-5.77,-4.63],[-5.51,-4.69],[-5.27,-4.64],[-4.99,-4.66],[-4.79,-4.68],[-4.56,-4.65],[-4.35,-4.67],[-4.08,-4.63],[-3.89,-4.69],[-3.64,-4.64],[-3.35,-4.66],[-3.13,-4.70],[-2.95,-4.64],[-2.69,-4.67],
[-6.86,-4.77],[-6.64,-4.73],[-6.46,-4.79],[-6.20,-4.74],[-5.96,-4.76],[-5.68,-4.78],[-5.48,-4.75],[-5.25,-4.77],[-5.04,-4.73],[-4.77,-4.79],[-4.58,-4.74],[-4.33,-4.72],[-4.04,-4.78],[-3.82,-4.76],[-3.64,-4.80],[-3.38,-4.75],[-3.14,-4.77],
[-6.84,-4.87],[-6.56,-4.82],[-6.36,-4.88],[-6.13,-4.86],[-5.92,-4.90],[-5.65,-4.84],[-5.46,-4.87],[-5.21,-4.83],[-4.92,-4.89],[-4.70,-4.84],[-4.52,-4.86],[-4.26,-4.88],[-4.02,-4.85],[-3.74,-4.87],[-3.54,-4.83],
[-6.80,-4.97],[-6.57,-4.93],[-6.30,-4.99],[-6.09,-4.95],[-5.84,-4.98],[-5.60,-4.94],[-5.38,-4.96],[-5.13,-5.00],[-4.91,-4.94],[-4.66,-4.97],[-4.44,-4.93],[-4.20,-4.98],
[-6.70,-5.04],[-6.40,-5.07],[-6.10,-5.03],[-5.75,-5.06],[-5.45,-5.04],[-5.15,-5.08],[-4.85,-5.05]
];

const tunedOuter = [
[-4.46,-1.76],[-3.69,-1.81],[-4.55,-1.95],[-4.71,-2.06],[-4.18,-2.08],[-3.36,-1.93],[-3.19,-1.96],[-5.35,-2.20],[-5.98,-2.30],[-5.96,-2.45],
[-5.78,-2.47],[-5.72,-2.39],[-6.81,-2.66],[-5.72,-2.62],[-6.23,-2.76],[-5.72,-2.77],[-6.46,-2.93],[-6.35,-3.11],[-5.41,-2.40],[-5.21,-2.39],
[-4.83,-2.24],[-2.60,-1.63],[-2.49,-1.58],
[-1.04,-1.28],[-1.12,-1.42],[-1.14,-1.53],[0.14,-1.42],[-0.35,-1.53],[-0.53,-1.61],[-0.74,-1.65],[-1.06,-1.67],[-2.41,-1.59],[-0.30,-1.72],
[-0.11,-1.78],[0.20,-1.75],[-0.63,-1.79],[-0.76,-1.86],[0.31,-2.06],[0.57,-2.21],[0.27,-2.19],[0.28,-2.28],[-0.01,-2.20],[1.82,-2.42],
[0.07,-2.50],[0.19,-2.60],[-0.03,-2.76],[-0.23,-3.03],[-0.44,-3.11],[-0.34,-3.21],[-0.16,-3.27],[0.38,-3.46],[-0.48,-3.32],[-0.19,-2.69],
[-0.38,-2.65],[-0.27,-2.51],[-0.11,-2.30],
[0.20,-3.53],[-0.11,-3.88],[0.04,-3.99],[-0.24,-4.00],[-0.37,-3.74],[-0.69,-3.69],[2.36,-3.91],[0.45,-4.24],[-0.60,-4.23],[-0.42,-4.28],
[-0.40,-4.06],[-0.60,-4.03],[-1.33,-4.31],[-1.10,-4.34],[-1.68,-4.66],[-1.50,-4.65],[-1.96,-4.67],[-2.15,-4.70],[-2.35,-4.72],[-1.46,-4.98],
[-2.21,-4.97],[-2.55,-5.01],[-1.67,-4.41],[-1.63,-4.46],[-2.46,-4.58],[-2.33,-4.44],[-2.68,-4.51],
[-7.42,-4.00],[-7.34,-4.11],[-7.22,-4.19],[-7.19,-4.46],[-7.16,-4.58],[-7.05,-5.07],[-6.97,-4.74],[-6.91,-4.97],[-6.66,-5.55],[-6.58,-5.41],
[-6.50,-5.36],[-6.28,-5.28],[-6.16,-5.43],[-5.94,-5.74],[-5.71,-5.42],[-5.61,-5.36],[-5.36,-5.43],[-5.24,-5.28],[-5.00,-5.28],[-4.89,-5.27],
[-4.69,-5.28],[-4.86,-5.42],[-4.79,-5.44],[-4.86,-5.55],[-4.50,-5.36],[-5.44,-5.18],[-6.74,-5.06],[-6.50,-5.07],[-6.21,-5.11],[-5.96,-5.06],
[-5.49,-5.10],[-5.13,-5.07],[-4.69,-5.12],[-4.32,-5.13],[-4.12,-5.10],[-3.87,-5.07],[-3.41,-5.05],[-3.66,-4.88],[-3.07,-4.90],[-2.91,-4.85],
[-7.01,-3.96],[-6.99,-4.34],[-6.88,-3.50]
];

// ---- layout ----
const grids = [
  { left: 95, top: 38.5, width: 460, height: 502.5 },
  { left: 647, top: 38.5, width: 459, height: 502.5 }
];
const xRanges = [[-7.92, 2.86], [-7.90, 2.82]];
const yRange = [-5.97, -1.06];
const colors = ['#ff7f0e', '#17becf'];
const ink = '#262626';

const sansFont = '"Liberation Sans", Arial, sans-serif';
const serifFont = '"DejaVu Serif", serif';

function signed(v, digits) {
  const s = Math.abs(v).toFixed(digits);
  return v < 0 ? '\u2212' + s : s;
}

const measureCtx = document.createElement('canvas').getContext('2d');
function textWidth(text, font) {
  measureCtx.font = font;
  return measureCtx.measureText(text).width;
}

function textEl(text, x, y, font, align) {
  return {
    type: 'text', x: x, y: y, silent: true,
    style: {
      text: text, font: font, fill: '#000',
      align: align || 'left', verticalAlign: 'middle',
      textAlign: align || 'left', textVerticalAlign: 'middle'
    }
  };
}

// "word δ_jt" label centred on (cx, cy)
function symbolLabel(word, cx, cy, rotation) {
  const fMain = '24px ' + sansFont;
  const fSym = 'italic 24px ' + serifFont;
  const fSub = 'italic 16px ' + serifFont;
  const w1 = textWidth(word + ' ', fMain);
  const w2 = textWidth('\u03b4', fSym);
  const w3 = textWidth('jt', fSub);
  const x0 = -(w1 + w2 + w3) / 2;
  return {
    type: 'group', x: cx, y: cy, rotation: rotation || 0, silent: true,
    children: [
      textEl(word, x0, 0, fMain),
      textEl('\u03b4', x0 + w1, 0, fSym),
      textEl('jt', x0 + w1 + w2 + 0.5, 6, fSub)
    ]
  };
}

const graphics = [];
const statValues = [embeddingStats, tunedStats];
grids.forEach(function (g, i) {
  const cx = g.left + g.width / 2;
  graphics.push(textEl(panelTitles[i], cx, 20, '28px ' + sansFont, 'center'));
  statNames.forEach(function (name, k) {
    const y = 60.5 + k * 26.6;
    graphics.push(textEl(name, g.left + 12, y, '24px ' + sansFont));
    graphics.push(textEl(statValues[i][k], g.left + 161, y, '24px ' + sansFont));
  });
  graphics.push(symbolLabel('Predicted', cx, 597, 0));
});
graphics.push(symbolLabel('True', 23, grids[0].top + grids[0].height / 2, Math.PI / 2));

// one scatter layer per point group; the dense core uses slightly larger dots
function scatterLayer(data, i, size) {
  return {
    type: 'scatter', xAxisIndex: i, yAxisIndex: i, data: data,
    symbol: 'circle', symbolSize: size, silent: true,
    itemStyle: { color: colors[i], borderColor: '#ffffff', borderWidth: 0.9, opacity: 1 },
    emphasis: { disabled: true }
  };
}

const option = {
  animation: false,
  backgroundColor: '#ffffff',
  grid: grids.map(function (g) {
    return Object.assign({ show: true, borderColor: ink, borderWidth: 1.4, containLabel: false }, g);
  }),
  xAxis: grids.map(function (g, i) {
    return {
      type: 'value', gridIndex: i, min: xRanges[i][0], max: xRanges[i][1],
      splitLine: { show: false },
      axisLine: { show: true, onZero: false, lineStyle: { color: ink, width: 1.4 } },
      axisTick: { show: true, customValues: xTickValues, length: 6, lineStyle: { color: ink, width: 1.2 } },
      axisLabel: {
        show: true, customValues: xTickValues, margin: 11,
        fontFamily: serifFont, fontSize: 20, color: '#000',
        formatter: function (v) { return signed(v, 1); }
      }
    };
  }),
  yAxis: grids.map(function (g, i) {
    return {
      type: 'value', gridIndex: i, min: yRange[0], max: yRange[1],
      splitLine: { show: false },
      axisLine: { show: true, onZero: false, lineStyle: { color: ink, width: 1.4 } },
      axisTick: { show: true, customValues: yTickValues, length: 6, lineStyle: { color: ink, width: 1.2 } },
      axisLabel: {
        show: i === 0, customValues: yTickValues, margin: 11,
        fontFamily: serifFont, fontSize: 20, color: '#000',
        formatter: function (v) { return signed(v, 0); }
      }
    };
  }),
  series: [
    scatterLayer(embeddingCore, 0, 13),
    scatterLayer(embeddingOuter, 0, 12),
    scatterLayer(tunedCore, 1, 13),
    scatterLayer(tunedOuter, 1, 12)
  ],
  graphic: graphics
};

const chart = echarts.init(document.getElementById('chart'), null, { renderer: 'canvas', width: 1114, height: 615 });
chart.setOption(option);
</script>
</body>
</html>
